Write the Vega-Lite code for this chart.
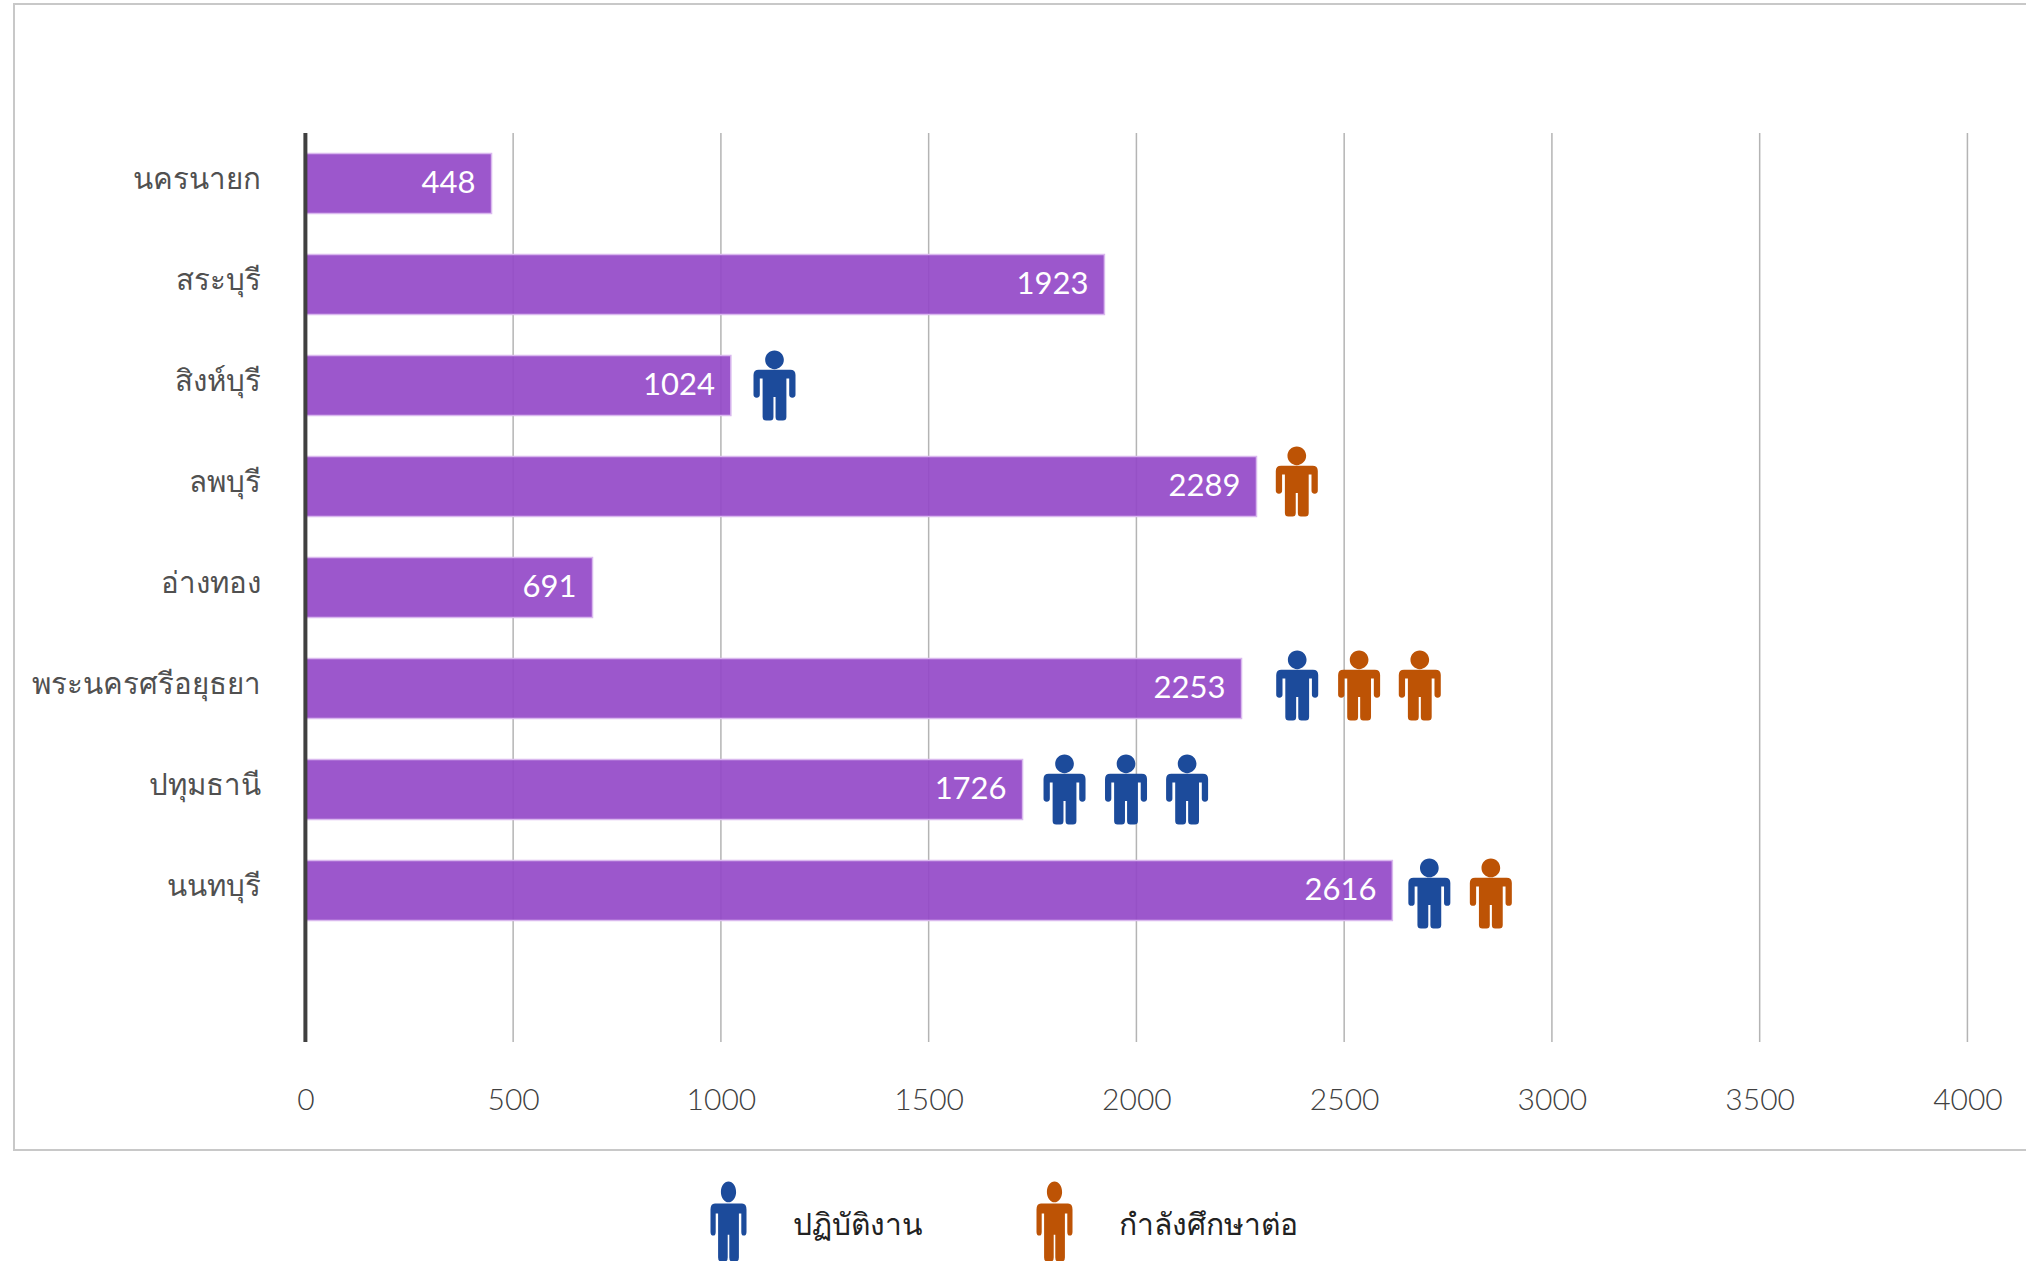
{"$schema":"https://vega.github.io/schema/vega-lite/v6.json","width":2030,"height":1146,"autosize":{"type":"none"},"padding":{"left":14,"top":4,"right":0,"bottom":111},"background":"white","view":{"stroke":"#c8c8c8","strokeWidth":2,"fill":null},"config":{"font":"Lato","text":{"font":"Lato"}},"datasets":{"bars":[{"จังหวัด":"นครนายก","จำนวน":448},{"จังหวัด":"สระบุรี","จำนวน":1923},{"จังหวัด":"สิงห์บุรี","จำนวน":1024},{"จังหวัด":"ลพบุรี","จำนวน":2289},{"จังหวัด":"อ่างทอง","จำนวน":691},{"จังหวัด":"พระนครศรีอยุธยา","จำนวน":2253},{"จังหวัด":"ปทุมธานี","จำนวน":1726},{"จังหวัด":"นนทบุรี","จำนวน":2616}],"icons":[{"row":2.5,"at":1129,"type":"ปฏิบัติงาน"},{"row":3.45,"at":2386,"type":"กำลังศึกษาต่อ"},{"row":5.47,"at":2387,"type":"ปฏิบัติงาน"},{"row":5.47,"at":2536,"type":"กำลังศึกษาต่อ"},{"row":5.47,"at":2682,"type":"กำลังศึกษาต่อ"},{"row":6.5,"at":1827,"type":"ปฏิบัติงาน"},{"row":6.5,"at":1975,"type":"ปฏิบัติงาน"},{"row":6.5,"at":2122,"type":"ปฏิบัติงาน"},{"row":7.53,"at":2705,"type":"ปฏิบัติงาน"},{"row":7.53,"at":2853,"type":"กำลังศึกษาต่อ"}],"ticks":[{"v":500},{"v":1000},{"v":1500},{"v":2000},{"v":2500},{"v":3000},{"v":3500},{"v":4000}]},"resolve":{"scale":{"y":"independent"}},"layer":[{"data":{"name":"ticks"},"mark":{"type":"rule","color":"#b4b4b4","strokeWidth":1.5},"encoding":{"x":{"field":"v","type":"quantitative","scale":{"domain":[-701.3,4184.3],"nice":false,"zero":false},"axis":{"values":[0,500,1000,1500,2000,2500,3000,3500,4000],"format":"d","orient":"bottom","offset":-50,"title":null,"grid":false,"domain":false,"ticks":false,"tickSize":0,"labelPadding":0,"labelBaseline":"middle","labelFontSize":30,"labelColor":"#404040","labelFont":"Lato","labelFontWeight":300,"labelOverlap":false,"labelFlush":false}},"y":{"datum":0,"type":"quantitative","scale":{"domain":[-1.277,10.069],"reverse":true,"nice":false,"zero":false},"axis":null},"y2":{"datum":9}}},{"data":{"name":"bars"},"mark":{"type":"bar","size":60,"fill":"#9449c8","fillOpacity":0.92,"stroke":"#d9b8ee","strokeWidth":1.5},"encoding":{"x":{"field":"จำนวน","type":"quantitative"},"y":{"field":"จังหวัด","type":"nominal","sort":null,"scale":{"type":"band","domain":["   ","นครนายก","สระบุรี","สิงห์บุรี","ลพบุรี","อ่างทอง","พระนครศรีอยุธยา","ปทุมธานี","นนทบุรี"," ","  "],"paddingInner":0,"paddingOuter":0.1733,"align":0.8},"axis":{"orient":"left","offset":-246,"title":null,"domain":false,"ticks":false,"tickSize":0,"grid":false,"labelPadding":0,"labelAlign":"right","labelBaseline":"middle","labelOffset":-4,"labelFontSize":29.5,"labelColor":"#505050","labelFont":"Noto Sans","labelFontWeight":300,"labelLimit":400}}}},{"data":{"values":[{"x":0}]},"mark":{"type":"rule","color":"#404040","strokeWidth":4},"encoding":{"x":{"field":"x","type":"quantitative"},"y":{"datum":0,"type":"quantitative","scale":{"domain":[-1.277,10.069],"reverse":true,"nice":false,"zero":false},"axis":null},"y2":{"datum":9}}},{"data":{"name":"bars"},"mark":{"type":"text","align":"right","baseline":"middle","dx":-16,"fontSize":31,"color":"white","font":"Lato"},"encoding":{"x":{"field":"จำนวน","type":"quantitative"},"y":{"field":"จังหวัด","type":"nominal","sort":null,"scale":{"type":"band","domain":["   ","นครนายก","สระบุรี","สิงห์บุรี","ลพบุรี","อ่างทอง","พระนครศรีอยุธยา","ปทุมธานี","นนทบุรี"," ","  "],"paddingInner":0,"paddingOuter":0.1733,"align":0.8},"axis":null},"text":{"field":"จำนวน","type":"quantitative","format":"d"}}},{"data":{"name":"icons"},"mark":{"type":"point","filled":true,"opacity":1,"size":4900,"shape":"M0,-1 A.267,.267 0 1 1 0,-.466 A.267,.267 0 1 1 0,-1 Z M-.45,-.45 L.45,-.45 Q.6,-.45 .6,-.3 L.6,.26 Q.6,.35 .51,.35 Q.42,.35 .42,.26 L.42,-.2 L.34,-.2 L.34,.9 Q.34,1 .24,1 L.12,1 Q.03,1 .03,.9 L.03,.33 L-.03,.33 L-.03,.9 Q-.03,1 -.12,1 L-.24,1 Q-.34,1 -.34,.9 L-.34,-.2 L-.42,-.2 L-.42,.26 Q-.42,.35 -.51,.35 Q-.6,.35 -.6,.26 L-.6,-.3 Q-.6,-.45 -.45,-.45 Z"},"encoding":{"x":{"field":"at","type":"quantitative"},"y":{"field":"row","type":"quantitative","scale":{"domain":[-1.277,10.069],"reverse":true,"nice":false,"zero":false},"axis":null},"color":{"field":"type","type":"nominal","scale":{"domain":["ปฏิบัติงาน","กำลังศึกษาต่อ"],"range":["#1c4b9b","#bd5305"]},"legend":{"orient":"none","legendX":674.5,"legendY":1177.5,"direction":"horizontal","columns":2,"title":null,"symbolType":"M0,-1 A.19,.26 0 1 1 0,-.48 A.19,.26 0 1 1 0,-1 Z M-.34,-.45 L.34,-.45 Q.45,-.45 .45,-.3 L.45,.26 Q.45,.35 .38,.35 Q.32,.35 .32,.26 L.32,-.2 L.26,-.2 L.26,.9 Q.26,1 .18,1 L.09,1 Q.02,1 .02,.9 L.02,.33 L-.02,.33 L-.02,.9 Q-.02,1 -.09,1 L-.18,1 Q-.26,1 -.26,.9 L-.26,-.2 L-.32,-.2 L-.32,.26 Q-.32,.35 -.38,.35 Q-.45,.35 -.45,.26 L-.45,-.3 Q-.45,-.45 -.34,-.45 Z","symbolSize":6400,"symbolOpacity":1,"symbolStrokeWidth":0,"labelFontSize":30,"labelFont":"Noto Sans","labelColor":"#222222","labelOffset":24.5,"columnPadding":91,"labelLimit":400,"encode":{"labels":{"update":{"dy":{"value":4}}}}}}}}]}
